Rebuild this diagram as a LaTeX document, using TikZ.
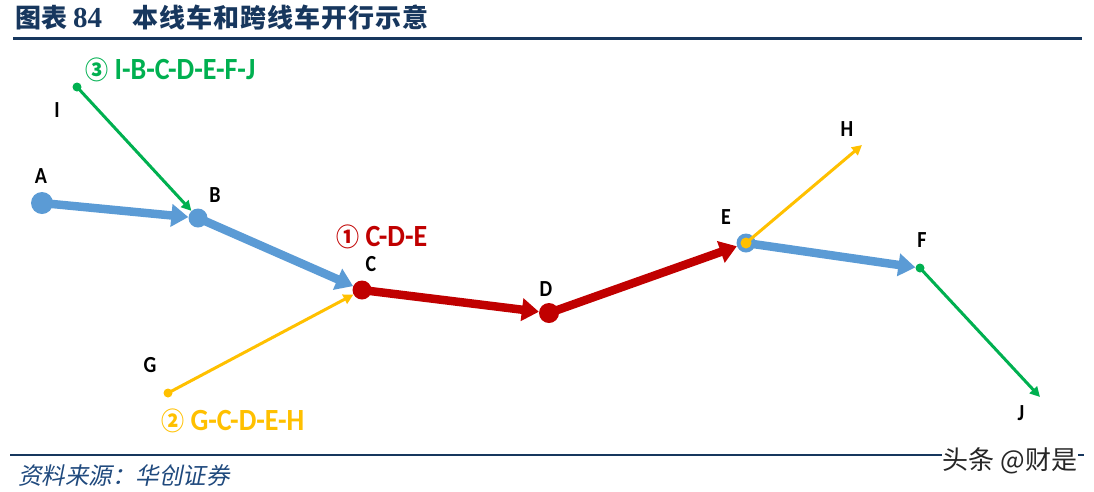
\documentclass[tikz,border=0pt]{standalone}
\usepackage{fontspec}
\usetikzlibrary{arrows.meta}
\setmainfont{Carlito}
\newfontfamily\cjk{Noto Sans CJK SC}
\newfontfamily\cjktitle[LetterSpace=4]{Noto Sans CJK SC}
\newfontfamily\cjkslant[FakeSlant=0.2]{Noto Sans CJK SC}
\newfontfamily\numfont{Liberation Serif}
\definecolor{linkblue}{RGB}{91,155,213}
\definecolor{linkred}{RGB}{192,0,0}
\definecolor{linkyellow}{RGB}{255,192,0}
\definecolor{linkgreen}{RGB}{0,176,80}
\definecolor{titlenavy}{RGB}{23,55,94}
\definecolor{sourceblue}{RGB}{31,73,125}
\newcommand{\circnum}[1]{{\fontsize{23}{23}\selectfont\cjk\bfseries #1}}

\begin{document}
\begin{tikzpicture}[x=1pt,y=-1pt,
    stn/.style={circle,inner sep=0pt,minimum size=#1},
    lbl/.style={font=\fontsize{20}{20}\selectfont\bfseries,inner sep=0pt,yscale=1.15,transform shape},
    route/.style={font=\fontsize{28}{28}\selectfont\bfseries,inner sep=0pt,anchor=west,yscale=1.1,transform shape},
    mainline/.style={line width=8.5pt,shorten <=-4pt,-{Triangle[length=17pt,width=22pt]}},
    feeder/.style={line width=3pt,shorten <=-2pt,-{Triangle[length=10pt,width=10pt]}}]
    \useasboundingbox (0,0) rectangle (1094,491);

    % Title
    \node[anchor=base west,inner sep=0pt,text=titlenavy] (title) at (15,27)
        {\fontsize{26}{26}\selectfont\cjk\bfseries 图表 {\numfont\bfseries\fontsize{29}{29}\selectfont 84}};
    \node[anchor=base west,inner sep=0pt,text=titlenavy] (subject) at (132,27)
        {\fontsize{26}{26}\selectfont\cjktitle\bfseries 本线车和跨线车开行示意};
    \draw[titlenavy,line width=3pt] (13,38) -- (1082,38);

    % Stations
    \node[stn=22pt,fill=linkblue] (A) at (42,203) {};
    \node[stn=19pt,fill=linkblue] (B) at (198,218) {};
    \node[stn=19pt,fill=linkred] (C) at (362,290) {};
    \node[stn=20pt,fill=linkred] (D) at (549,313) {};
    \node[stn=19pt,fill=linkblue] (E) at (746,243) {};
    \node[stn=9pt,fill=linkgreen] (F) at (920,268) {};
    \node[stn=9pt,fill=linkgreen] (I) at (77,87) {};
    \node[stn=9pt,fill=linkyellow] (G) at (168,393) {};
    \coordinate (H) at (862,145);
    \coordinate (J) at (1040,397);

    % Station names
    \node[lbl] (labA) at (41,176) {A};
    \node[lbl] (labB) at (215,195) {B};
    \node[lbl] (labC) at (371,264) {C};
    \node[lbl] (labD) at (546,289) {D};
    \node[lbl] (labE) at (726,217) {E};
    \node[lbl] (labF) at (922,240) {F};
    \node[lbl] (labG) at (150,365) {G};
    \node[lbl] (labH) at (847,129) {H};
    \node[lbl] (labI) at (57,110) {I};
    \node[lbl] (labJ) at (1021,413) {J};

    % Through line
    \draw[mainline,linkblue] (A) -- (B);
    \draw[mainline,linkblue] (B) -- (C);
    \draw[mainline,linkblue] (E) -- (F);
    \draw[mainline,linkred] (C) -- (D);
    \draw[mainline,linkred] (D) -- (E);

    % Cross lines
    \draw[feeder,linkyellow] (G) -- (C);
    \draw[feeder,linkyellow,shorten <=0pt] (E.center) -- (H);
    \fill[linkyellow] (E) circle (5.5pt);
    \draw[feeder,linkgreen] (I) -- (B);
    \draw[feeder,linkgreen] (F) -- (J);

    % Routes
    \node[route,text=linkred] (route1) at (336,237) {\circnum{①} C-D-E};
    \node[route,text=linkyellow] (route2) at (161,421) {\circnum{②} G-C-D-E-H};
    \node[route,text=linkgreen] (route3) at (85,70) {\circnum{③} I-B-C-D-E-F-J};

    % Source
    \draw[titlenavy,line width=2pt] (10,455) -- (1084,455);
    \node[anchor=west,inner sep=0pt,text=sourceblue] (source) at (18,476)
        {\fontsize{23.5}{23.5}\selectfont\cjkslant 资料来源：华创证券};
    \node[fill=white,inner sep=1pt,text=black!85] (mark) at (1010,461)
        {\fontsize{26}{26}\selectfont\cjk 头条 @财是};
\end{tikzpicture}
\end{document}
